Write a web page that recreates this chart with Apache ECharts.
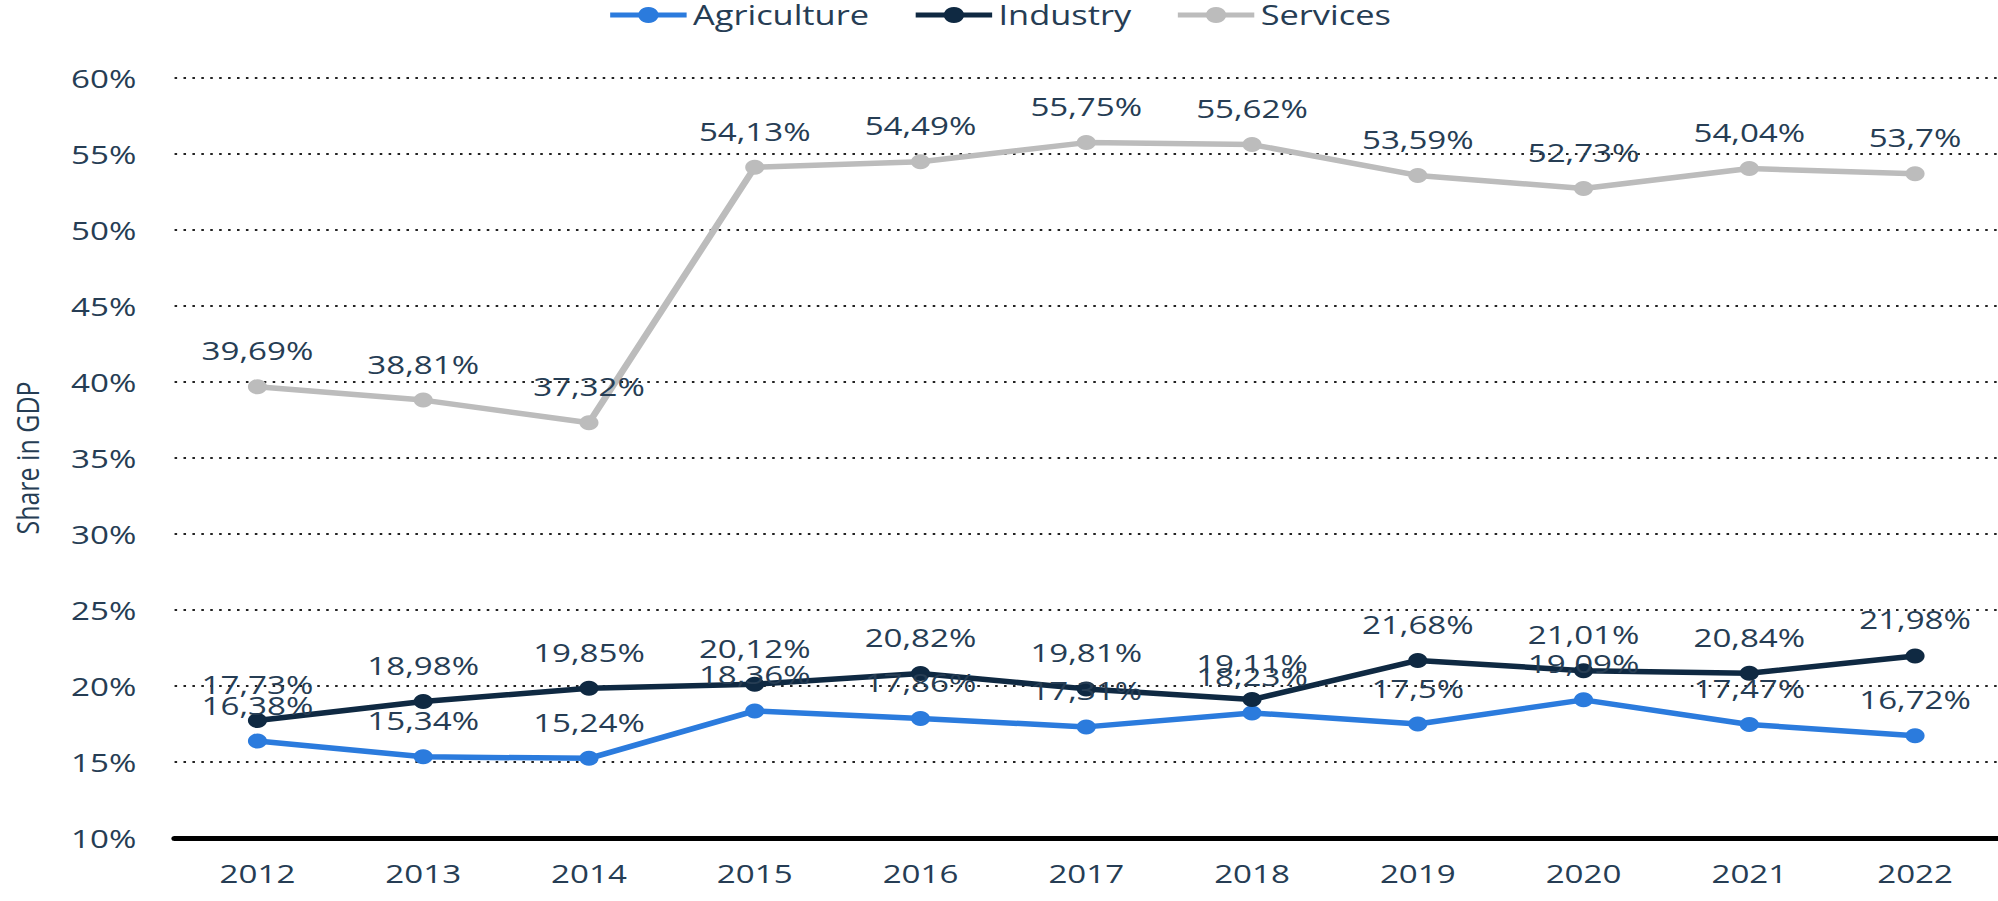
<!DOCTYPE html>
<html lang="en">
<head>
    <meta charset="UTF-8">
    <title>Share in GDP</title>
    <script src="https://cdn.jsdelivr.net/npm/echarts@6/dist/echarts.min.js"></script>
    <style>
        html, body { margin: 0; padding: 0; overflow: hidden; background: #fff; }
        /* the reference is stretched sideways, so draw narrow and widen it */
        #main { width: 1568px; height: 901px; transform: scaleX(1.2742); transform-origin: 0 0; }
    </style>
</head>
<body>
<div id="main"></div>
<script type="text/javascript">
    var years = ['2012', '2013', '2014', '2015', '2016', '2017', '2018', '2019', '2020', '2021', '2022'];
    var agriculture = [16.38, 15.34, 15.24, 18.36, 17.86, 17.31, 18.23, 17.5, 19.09, 17.47, 16.72];
    var industry = [17.73, 18.98, 19.85, 20.12, 20.82, 19.81, 19.11, 21.68, 21.01, 20.84, 21.98];
    var services = [39.69, 38.81, 37.32, 54.13, 54.49, 55.75, 55.62, 53.59, 52.73, 54.04, 53.7];

    var textColor = '#263d54';
    var font = 'Open Sans';

    var myChart = echarts.init(document.getElementById('main'), null, {renderer: 'svg'});

    function pct(p) {
        return String(p.value).replace('.', ',') + '%';
    }

    function makeSeries(name, data, color) {
        return {
            name: name,
            type: 'line',
            data: data,
            symbol: 'circle',
            symbolSize: 15,
            lineStyle: {width: 5.5, color: color},
            itemStyle: {color: color},
            label: {
                show: true,
                position: 'top',
                distance: 16,
                formatter: pct,
                color: textColor,
                fontSize: 26,
                fontFamily: font
            },
            emphasis: {disabled: true}
        };
    }

    var option = {
        animation: false,
        legend: {
            top: 1,
            left: 'center',
            padding: 0,
            itemGap: 34,
            itemWidth: 60,
            itemHeight: 20,
            lineStyle: {width: 5},
            textStyle: {color: textColor, fontSize: 27, lineHeight: 28, fontFamily: font},
            data: ['Agriculture', 'Industry', 'Services']
        },
        grid: {left: 137, right: 0, top: 78, bottom: 63, containLabel: false},
        xAxis: {
            type: 'category',
            data: years,
            axisLine: {lineStyle: {color: '#000', width: 5}},
            axisTick: {show: false},
            axisLabel: {color: textColor, fontSize: 26, fontFamily: font, margin: 22}
        },
        yAxis: {
            type: 'value',
            min: 10,
            max: 60,
            interval: 5,
            name: 'Share in GDP',
            nameLocation: 'middle',
            nameGap: 104,
            nameTextStyle: {color: textColor, fontSize: 25, fontFamily: font},
            axisLine: {show: false},
            axisTick: {show: false},
            axisLabel: {formatter: '{value}%', color: textColor, fontSize: 26, fontFamily: font, margin: 30},
            splitLine: {lineStyle: {color: '#222', width: 2, type: [2, 5]}}
        },
        series: [
            makeSeries('Agriculture', agriculture, '#2b7bdd'),
            makeSeries('Industry', industry, '#0f2942'),
            makeSeries('Services', services, '#bcbcbc')
        ]
    };
    myChart.setOption(option);
</script>
</body>
</html>
